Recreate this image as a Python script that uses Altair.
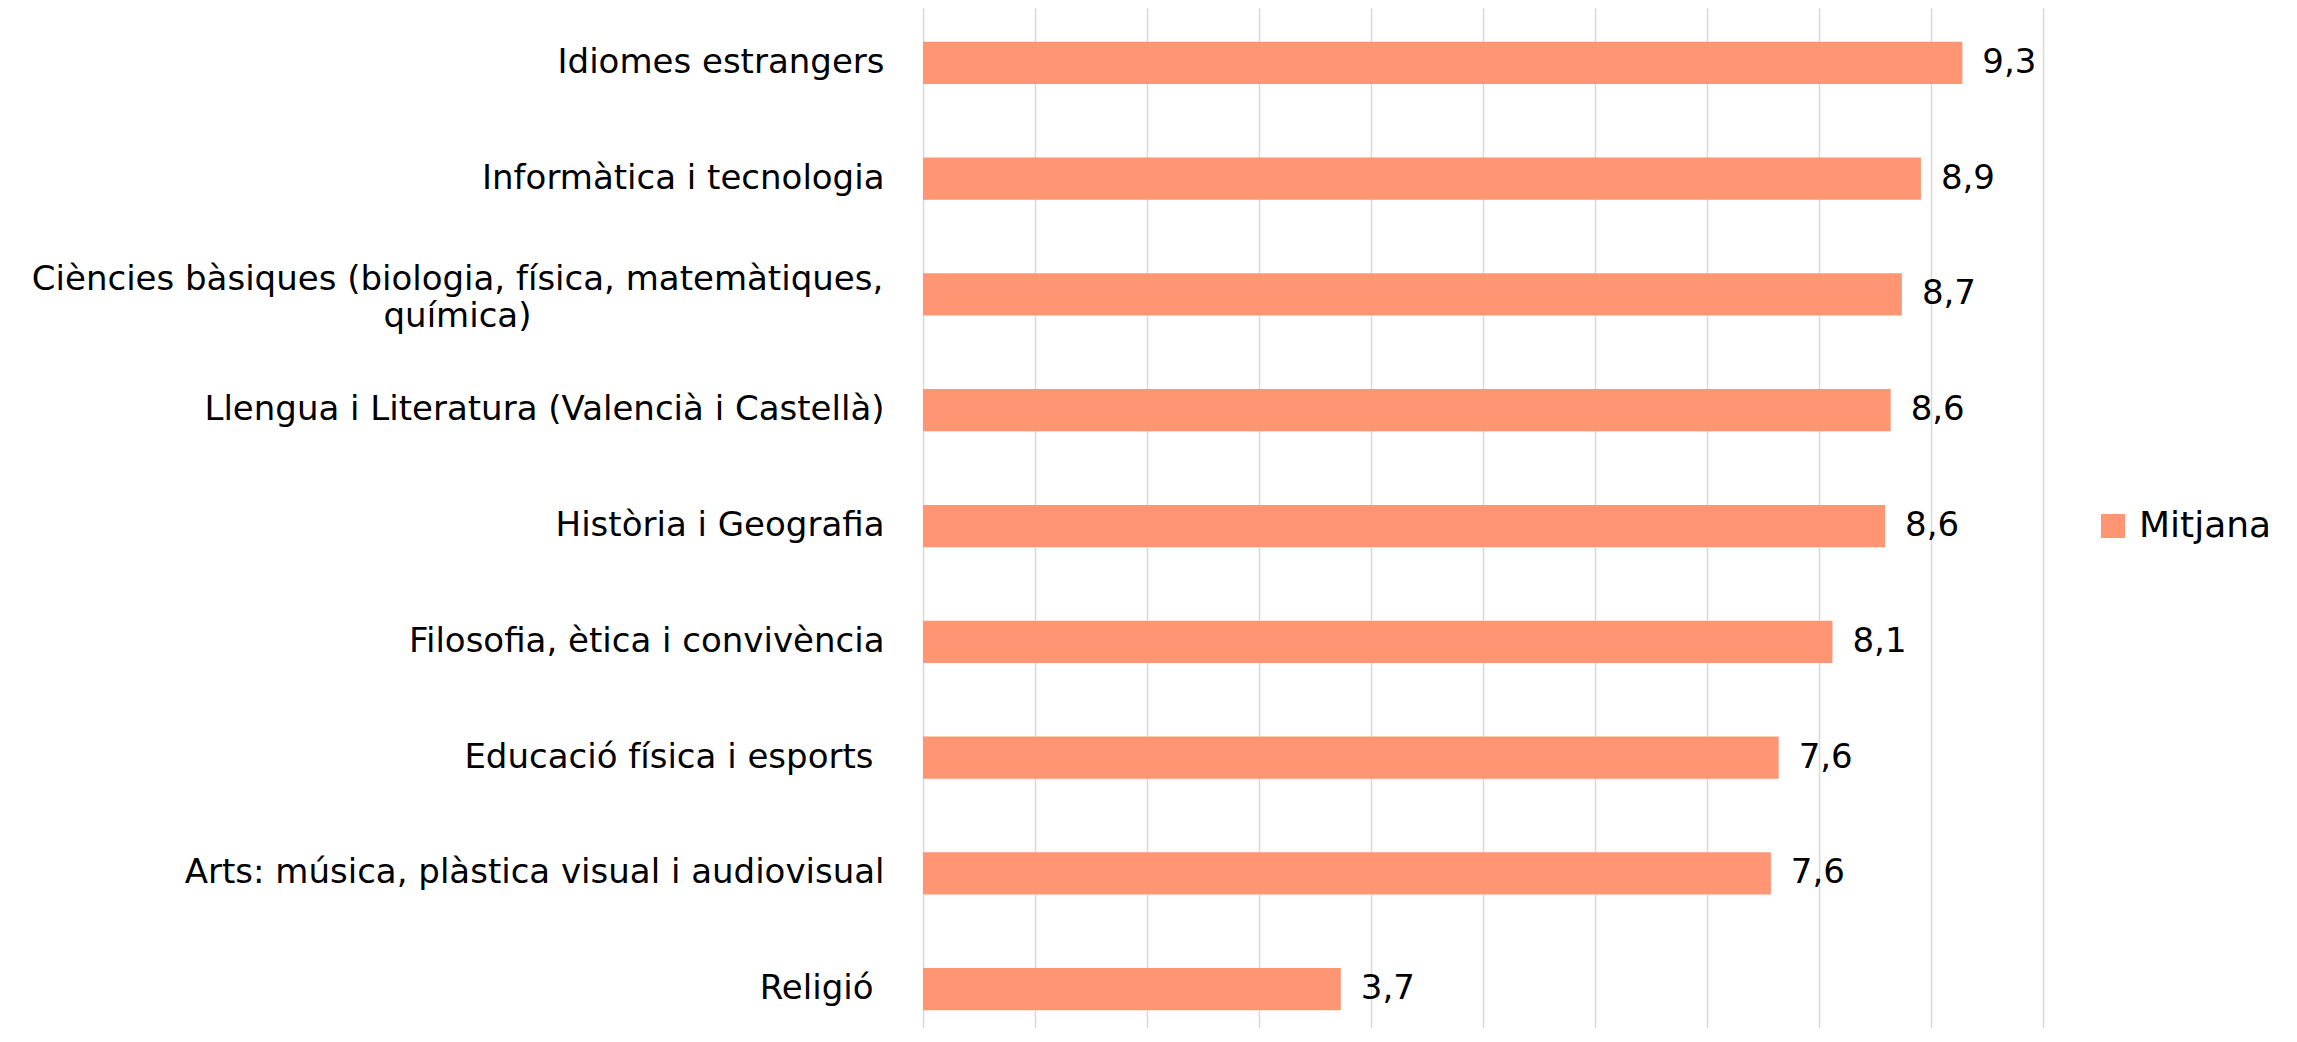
import json
import altair as alt
import pandas as pd

# ---- data ----
categories = [
    "Idiomes estrangers",
    "Informàtica i tecnologia",
    "Ciències bàsiques (biologia, física, matemàtiques, química)",
    "Llengua i Literatura (Valencià i Castellà)",
    "Història i Geografia",
    "Filosofia, ètica i convivència",
    "Educació física i esports ",
    "Arts: música, plàstica visual i audiovisual",
    "Religió ",
]
values = [9.28, 8.91, 8.74, 8.64, 8.59, 8.12, 7.64, 7.57, 3.73]
series_name = "Mitjana"
x_ticks = list(range(0, 11))

BAR = "#FF9572"
FONT = "DejaVu Sans"

df = pd.DataFrame({"categoria": categories, "valor": values, "serie": series_name})

wrapped = categories[2]
wrapped_lines = ["Ciències bàsiques (biologia, física, matemàtiques,", "química)"]
trailing = [c for c in categories if c.endswith(" ")]


def q(s):
    return json.dumps(s, ensure_ascii=False)


label_expr = f"datum.label == {q(wrapped)} ? {q(wrapped_lines)} : datum.label"
test_wrapped = f"datum.value == {q(wrapped)}"
test_trailing = " || ".join(f"datum.value == {q(c)}" for c in trailing)

y_enc = alt.Y(
    "categoria:N",
    sort=categories,
    scale=alt.Scale(paddingInner=0.635, paddingOuter=0.223, align=0.655),
    axis=alt.Axis(
        title=None,
        domain=False,
        ticks=False,
        grid=False,
        labelFont=FONT,
        labelFontSize=34,
        labelColor="#000000",
        labelAlign={"condition": {"test": test_wrapped, "value": "center"}, "value": "right"},
        labelPadding={
            "condition": [
                {"test": test_wrapped, "value": 466},
                {"test": test_trailing, "value": 50},
            ],
            "value": 39,
        },
        labelOffset={"condition": {"test": test_wrapped, "value": -14}, "value": 0},
        labelLimit=3000,
        labelLineHeight=37,
        labelExpr=label_expr,
    ),
)
x_enc = alt.X(
    "valor:Q",
    scale=alt.Scale(domain=[0, 10], nice=False, zero=True),
    axis=alt.Axis(
        title=None,
        values=x_ticks,
        labels=False,
        ticks=False,
        domain=False,
        grid=True,
        gridColor="#D9D9D9",
        gridWidth=1.5,
    ),
)

bars = alt.Chart(df).mark_bar().encode(
    x=x_enc,
    y=y_enc,
    color=alt.Color(
        "serie:N",
        scale=alt.Scale(domain=[series_name], range=[BAR]),
        legend=alt.Legend(
            title=None,
            orient="none",
            legendX=1172,
            legendY=500,
            padding=0,
            symbolType="square",
            symbolSize=576,
            symbolStrokeWidth=0,
            symbolOpacity=1,
            labelFont=FONT,
            labelFontSize=36,
            labelColor="#000000",
            labelOffset=8,
        ),
    ),
)

texts = alt.Chart(df).transform_calculate(
    lab="replace(format(datum.valor, '.1f'), '.', ',')"
).mark_text(
    align="left", baseline="middle", dx=20, font=FONT, fontSize=34, color="#000000"
).encode(
    x=alt.X("valor:Q"),
    y=alt.Y("categoria:N", sort=categories),
    text="lab:N",
)

chart = (
    alt.layer(bars, texts)
    .properties(
        width=1120,
        height=1020,
        autosize=alt.AutoSizeParams(type="none"),
        padding={"left": 915, "top": 0, "right": 240, "bottom": 0},
        background="white",
    )
    .configure_view(stroke=None)
)

chart.save("out.html", embed_options={"renderer": "svg", "actions": False})
